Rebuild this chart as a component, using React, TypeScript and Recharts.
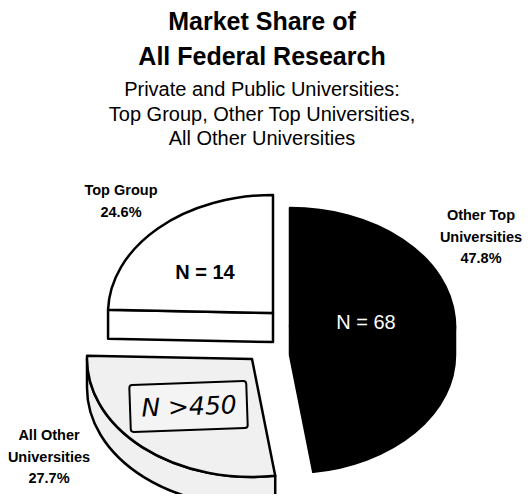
import { PieChart, Pie } from 'recharts'

const categories = ['Other Top Universities', 'All Other Universities', 'Top Group']
const categoryLines = [['Other Top', 'Universities'], ['All Other', 'Universities'], ['Top Group']]
const shares = [47.8, 27.7, 24.6]
const counts = ['N = 68', 'N >450', 'N = 14']

const titleLines = ['Market Share of', 'All Federal Research']
const subtitleLines = [
  'Private and Public Universities:',
  'Top Group, Other Top Universities,',
  'All Other Universities',
]

const data = categories.map((name, i) => ({ name, value: shares[i] }))

// the wrapper cancels the body margin so the svg covers the whole window
const W = 530
const H = 502
const CX = 272
const CY = 330
// tilted 3d pie: ellipse radii and thickness
const RX = 165
const RY = 118
const DEPTH = 29
const FONT = '"Liberation Sans", Arial, sans-serif'

// slices were pulled out by hand in the original, not evenly
const explode: Record<string, [number, number]> = {
  'Other Top Universities': [18, -4],
  'All Other Universities': [-20, 29],
  'Top Group': [1, -17],
}
const sliceFill: Record<string, string> = {
  'Other Top Universities': '#000000',
  'All Other Universities': '#f0f0f0',
  'Top Group': '#ffffff',
}
const outerLabelAt: Record<string, [number, number]> = {
  'Other Top Universities': [481, 220],
  'All Other Universities': [49, 440],
  'Top Group': [121, 195],
}

const rad = (a: number) => (a * Math.PI) / 180

function Slice3D(props: any) {
  const { cx, cy, startAngle, endAngle, name } = props
  const [ox, oy] = explode[name] ?? [0, 0]
  const ax = cx + ox
  const ay = cy + oy
  const pt = (a: number, dy = 0): [number, number] => [ax + RX * Math.cos(rad(a)), ay - RY * Math.sin(rad(a)) + dy]
  const fill = sliceFill[name] ?? '#fff'
  const walls: string[] = []

  // radial walls facing the viewer
  const radialWall = (a: number) => {
    const [px, py] = pt(a)
    return `M${ax},${ay} L${px},${py} L${px},${py + DEPTH} L${ax},${ay + DEPTH} Z`
  }
  if (Math.sin(rad(startAngle + 90)) < -0.02) walls.push(radialWall(startAngle))
  if (Math.sin(rad(endAngle - 90)) < -0.02) walls.push(radialWall(endAngle))

  // outer rim, only the front half of the ellipse shows
  const lo0 = Math.min(startAngle, endAngle)
  const hi0 = Math.max(startAngle, endAngle)
  for (const k of [-360, 0, 360]) {
    const hi = Math.min(hi0, k)
    const lo = Math.max(lo0, k - 180)
    if (hi - lo > 0.1) {
      const [x1, y1] = pt(hi)
      const [x2, y2] = pt(lo)
      walls.push(
        `M${x1},${y1} A${RX},${RY} 0 0 1 ${x2},${y2} L${x2},${y2 + DEPTH} A${RX},${RY} 0 0 0 ${x1},${y1 + DEPTH} Z`,
      )
    }
  }

  const [sx, sy] = pt(startAngle)
  const [ex, ey] = pt(endAngle)
  const large = Math.abs(startAngle - endAngle) > 180 ? 1 : 0
  const sweep = startAngle > endAngle ? 1 : 0
  const top = `M${ax},${ay} L${sx},${sy} A${RX},${RY} 0 ${large} ${sweep} ${ex},${ey} Z`

  return (
    <g>
      {walls.map((d, i) => (
        <path key={i} d={d} fill={fill} stroke="#000" strokeWidth={2.5} strokeLinejoin="round" />
      ))}
      <path d={top} fill={fill} stroke="#000" strokeWidth={2.5} strokeLinejoin="round" />
    </g>
  )
}

function SliceLabel(props: any) {
  const name: string = props.name
  const i = categories.indexOf(name)
  if (i < 0) return null
  const [lx, ly] = outerLabelAt[name]
  const lines = [...categoryLines[i], `${shares[i]}%`]
  const outer = (
    <text x={lx} y={ly} textAnchor="middle" fontFamily={FONT} fontSize={14.5} fontWeight="bold" fill="#000">
      {lines.map((t, j) => (
        <tspan key={j} x={lx} dy={j === 0 ? 0 : 21.5}>
          {t}
        </tspan>
      ))}
    </text>
  )

  let inner = null
  if (name === 'Top Group') {
    inner = (
      <text x={205} y={279} textAnchor="middle" fontFamily={FONT} fontSize={20} fontWeight="bold" fill="#000">
        {counts[i]}
      </text>
    )
  } else if (name === 'Other Top Universities') {
    inner = (
      <text x={366} y={329} textAnchor="middle" fontFamily={FONT} fontSize={20} fill="#fff">
        {counts[i]}
      </text>
    )
  } else {
    // hand written note in a box
    inner = (
      <g transform="rotate(-2 188 406)">
        <rect x={130} y={383} width={117} height={47} rx={3} fill="#f4f4f4" stroke="#000" strokeWidth={2} />
        <text
          x={189}
          y={415}
          textAnchor="middle"
          fontFamily='"DejaVu Sans", sans-serif'
          fontStyle="italic"
          fontSize={25}
          fill="#000"
        >
          {counts[i]}
        </text>
      </g>
    )
  }

  return (
    <g>
      {outer}
      {inner}
    </g>
  )
}

export default function App() {
  return (
    <div style={{ position: 'relative', width: W, height: H, margin: -8, background: '#fff' }}>
      <PieChart width={W} height={H} margin={{ top: 0, right: 0, bottom: 0, left: 0 }}>
        <Pie
          data={data}
          dataKey="value"
          nameKey="name"
          cx={CX}
          cy={CY}
          innerRadius={0}
          outerRadius={RX}
          startAngle={90}
          endAngle={-270}
          stroke="none"
          shape={Slice3D}
          label={SliceLabel}
          labelLine={false}
          isAnimationActive={false}
        />
      </PieChart>
      <svg width={W} height={170} style={{ position: 'absolute', left: 0, top: 0, pointerEvents: 'none' }}>
        {titleLines.map((t, i) => (
          <text key={t} x={262} y={30 + i * 35} textAnchor="middle" fontFamily={FONT} fontSize={25} fontWeight="bold">
            {t}
          </text>
        ))}
        {subtitleLines.map((t, i) => (
          <text key={t} x={262} y={96 + i * 24.5} textAnchor="middle" fontFamily={FONT} fontSize={20}>
            {t}
          </text>
        ))}
      </svg>
    </div>
  )
}
